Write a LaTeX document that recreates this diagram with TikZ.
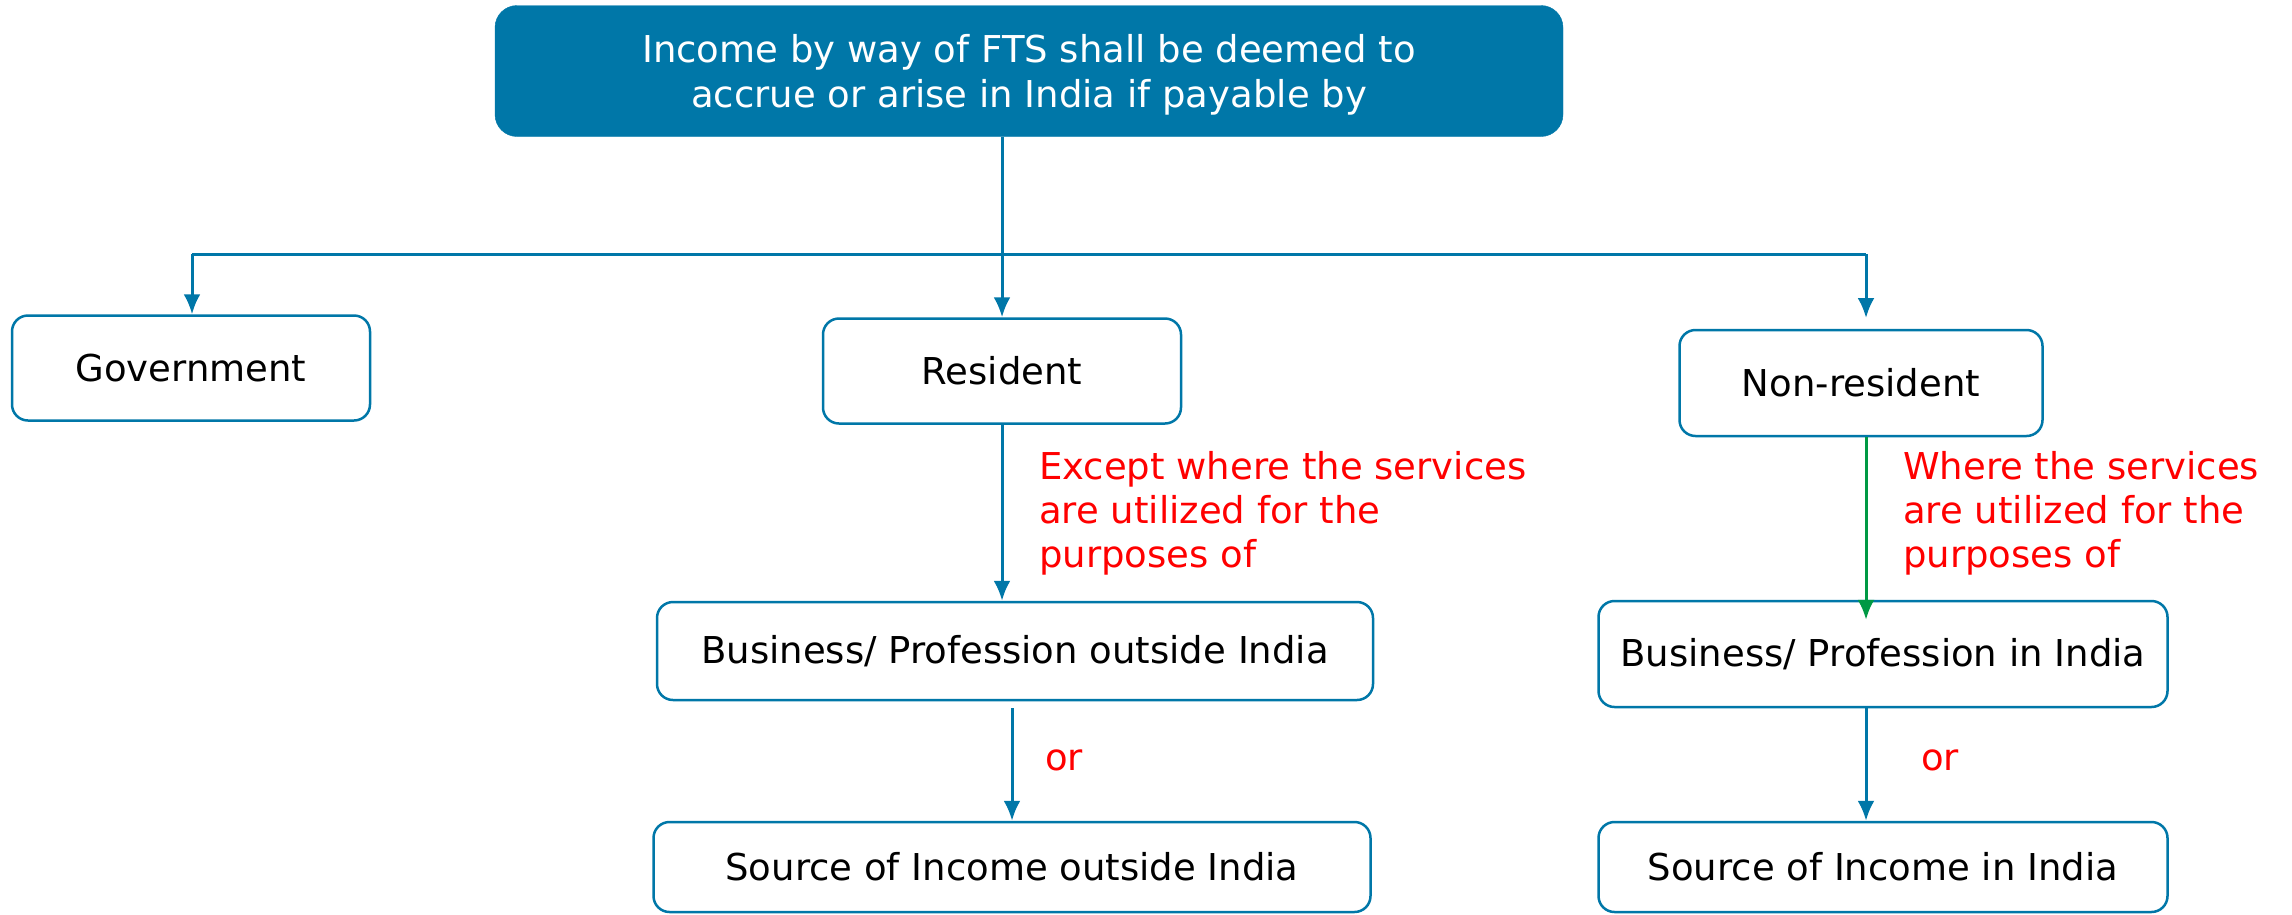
\documentclass[tikz,border=0pt]{standalone}
\usepackage{fontspec}
\setmainfont{DejaVu Sans}
\usepackage{tikz}
\usetikzlibrary{arrows.meta}
\definecolor{ftsblue}{RGB}{0,119,168}
\definecolor{ftsgreen}{RGB}{0,153,68}

\begin{document}
\begin{tikzpicture}[x=1pt,y=-1pt,
  box/.style={draw=ftsblue, line width=2.5pt, rounded corners=16pt, fill=white,
    font=\fontsize{37}{44}\selectfont, text=black, inner sep=0pt},
  note/.style={font=\fontsize{37}{44}\selectfont, text=red, align=left, anchor=west, inner sep=0pt},
  link/.style={draw=ftsblue, line width=3pt, -{Latex[length=20pt,width=17pt]}}]
\useasboundingbox (0,0) rectangle (2292,914);
\node[draw=ftsblue, fill=ftsblue, rounded corners=22pt, minimum width=1068pt, minimum height=131pt,
  text=white, align=center, text depth=0pt, font=\fontsize{37}{45}\selectfont] at (1029,71) (top)
  {Income by way of FTS shall be deemed to\\accrue or arise in India if payable by};
\node[box, minimum width=358pt, minimum height=105pt] at (191,368) (gov) {Government};
\node[box, minimum width=358pt, minimum height=105pt] at (1002,371) (res) {Resident};
\node[box, minimum width=363pt, minimum height=106pt] at (1861,383) (nonres) {Non-resident};
\node[box, minimum width=716pt, minimum height=98pt] at (1015,651) (bpo) {Business/ Profession outside India};
\node[box, minimum width=717pt, minimum height=90pt] at (1012,867) (soo) {Source of Income outside India};
\node[box, minimum width=569pt, minimum height=106pt] at (1883,654) (bpi) {Business/ Profession in India};
\node[box, minimum width=569pt, minimum height=90pt] at (1883,867) (soi) {Source of Income in India};
\coordinate (jl) at (192,254);
\coordinate (jr) at (1866,254);
\coordinate (nrtip) at (1866,318);
\draw[ftsblue, line width=3pt] (jl) -- (jr);
\path[link] (top.south -| res.north) -- (res.north);
\path[link] (jl) -- (jl |- gov.north);
\path[link] (jr) -- (nrtip);
\path[link] (res.south) -- (res.south |- bpo.north);
\path[link] ([yshift=-7pt]bpo.south -| soo.north) -- (soo.north);
\path[link, draw=ftsgreen] (nonres.south -| nrtip) -- ([yshift=-20pt]bpi.north -| nrtip);
\path[link] (bpi.south -| nrtip) -- (soi.north -| nrtip);
\node[note] at (1039,513) (exc) {Except where the services\\are utilized for the\\purposes of};
\node[note] at (1903,513) (whr) {Where the services\\are utilized for the\\purposes of};
\node[note] at (1045,760) (or1) {or};
\node[note] at (1921,760) (or2) {or};
\end{tikzpicture}
\end{document}
